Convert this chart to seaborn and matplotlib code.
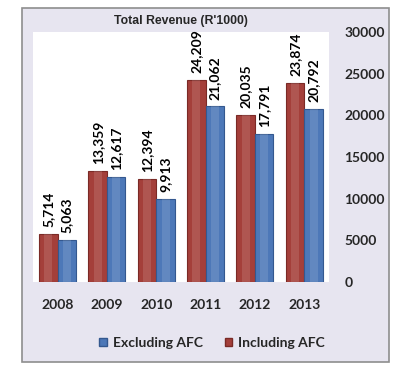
import matplotlib
matplotlib.use("Agg")
import matplotlib.pyplot as plt
import seaborn as sns
import pandas as pd
from matplotlib.patches import Rectangle, Patch

years = ["2008", "2009", "2010", "2011", "2012", "2013"]
including_afc = [5714, 13359, 12394, 24209, 20035, 23874]
excluding_afc = [5063, 12617, 9913, 21062, 17791, 20792]
series = ["Including AFC", "Excluding AFC"]
yticks = [0, 5000, 10000, 15000, 20000, 25000, 30000]

df = pd.DataFrame({
    "Year": years * 2,
    "Series": [series[0]] * len(years) + [series[1]] * len(years),
    "Value": including_afc + excluding_afc,
})

sns.set_theme(style="white")
plt.rcParams["font.family"] = ["Lato", "DejaVu Sans"]

W, H = 406, 369
fig = plt.figure(figsize=(W / 100, H / 100), dpi=100)
fig.patch.set_facecolor("white")
fig.patches.append(Rectangle((22 / W, 1 - 362 / H), (389 - 22) / W, (362 - 8) / H,
                             transform=fig.transFigure, facecolor="#E7E5F0",
                             edgecolor="#8E8E8E", linewidth=1.2, zorder=-10))

ax = fig.add_axes([33 / W, 1 - 282 / H, (329 - 33) / W, (282 - 32) / H])
ax.set_facecolor("white")

red = "#A43F3A"
blue = "#4D78B8"
sns.barplot(data=df, x="Year", y="Value", hue="Series", hue_order=series,
            palette=[red, blue], width=0.75, dodge=True, ax=ax,
            saturation=1, legend=False, edgecolor="none")

edge_cols = {red: "#7A2A26", blue: "#34588F"}
for bar, col in zip(list(ax.patches), [red] * 6 + [blue] * 6):
    bar.set_edgecolor(edge_cols[col])
    bar.set_linewidth(0.8)
    x, w, h = bar.get_x(), bar.get_width(), bar.get_height()
    inner = Rectangle((x + w * 0.28, 0), w * 0.44, h, facecolor="white",
                      alpha=0.12, edgecolor="none", zorder=bar.get_zorder() + 0.1)
    ax.add_patch(inner)

for cont in ax.containers:
    for bar in cont:
        h = bar.get_height()
        ax.annotate(f"{int(h):,}", (bar.get_x() + bar.get_width() / 2, h),
                    xytext=(0, 5), textcoords="offset points",
                    rotation=90, ha="center", va="bottom",
                    fontsize=10, fontweight="bold", color="black")

ax.set_ylim(0, 30000)
ax.set_yticks(yticks)
ax.yaxis.tick_right()
ax.tick_params(axis="y", length=0, pad=11, labelsize=10)
ax.tick_params(axis="x", length=0, pad=12, labelsize=10)
for lab in ax.get_yticklabels() + ax.get_xticklabels():
    lab.set_fontweight("bold")
ax.set_xlabel("")
ax.set_ylabel("")
for s in ax.spines.values():
    s.set_visible(False)

ax.set_title("Total Revenue (R'1000)", fontsize=8.8, fontweight="bold",
             family=["Liberation Sans", "DejaVu Sans"], pad=6)

handles = [Patch(facecolor=blue, edgecolor=edge_cols[blue]),
           Patch(facecolor=red, edgecolor=edge_cols[red])]
fig.legend(handles, ["Excluding AFC", "Including AFC"], loc="center",
           bbox_to_anchor=(212 / W, 1 - 343 / H), ncol=2, frameon=False,
           prop={"weight": "bold", "size": 10}, handlelength=0.55,
           handleheight=0.55, handletextpad=0.4, columnspacing=1.6)

fig.savefig("out.png", dpi=100)
